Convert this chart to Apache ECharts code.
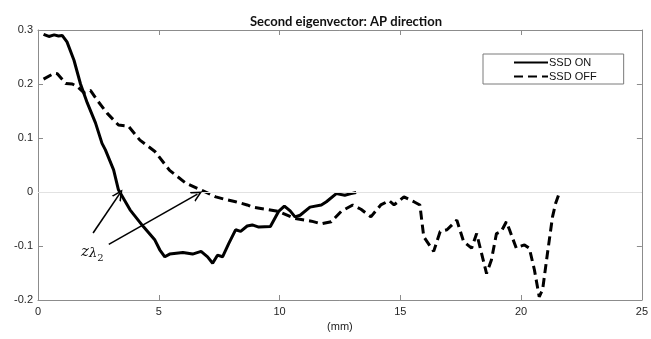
<!DOCTYPE html>
<html>
<head>
<meta charset="utf-8">
<script src="https://cdn.jsdelivr.net/npm/echarts@6/dist/echarts.min.js"></script>
<style>
  html, body { margin: 0; padding: 0; background: #fff; }
  #chart { width: 651px; height: 339px; }
</style>
</head>
<body>
<div id="chart"></div>
<script>
const xTicks = [0, 5, 10, 15, 20, 25]
const yTicks = [-0.2, -0.1, 0, 0.1, 0.2, 0.3]

const onX = [0.23, 0.45, 0.67, 0.85, 1.0, 1.2, 1.49, 1.76, 2.04, 2.38,
  2.65, 2.79, 3.13, 3.33, 3.81, 4.36, 4.84, 5.04, 5.25, 5.45,
  6.0, 6.4, 6.75, 7.02, 7.23, 7.43, 7.64, 7.9, 8.18, 8.39,
  8.66, 8.87, 9.14, 9.62, 9.96, 10.2, 10.44, 10.64, 10.85, 11.26,
  11.73, 11.94, 12.35, 12.7, 12.96, 13.17]
const onY = [0.292, 0.288, 0.291, 0.289, 0.290, 0.278, 0.244, 0.20, 0.165, 0.128,
  0.09, 0.078, 0.041, 0.004, -0.033, -0.064, -0.089, -0.107, -0.12, -0.115,
  -0.112, -0.115, -0.11, -0.12, -0.132, -0.117, -0.12, -0.095, -0.07, -0.073,
  -0.063, -0.061, -0.065, -0.064, -0.036, -0.026, -0.035, -0.046, -0.043, -0.028,
  -0.024, -0.018, -0.003, -0.006, -0.003, -0.001]

const offX = [0.23, 0.67, 0.8, 1.15, 1.42, 1.63, 1.9, 2.17, 2.45, 2.86,
  3.33, 3.74, 4.22, 4.84, 5.45, 6.13, 6.68, 7.36, 7.77, 8.18,
  8.66, 8.87, 9.41, 9.96, 10.64, 11.32, 11.73, 12.14, 12.55, 13.03,
  13.37, 13.78, 14.19, 14.54, 14.74, 15.15, 15.56, 15.81, 15.97, 16.38,
  16.65, 16.93, 17.34, 17.62, 17.95, 18.16, 18.57, 18.77, 18.98, 19.18,
  19.39, 19.52, 19.8, 19.93, 20.14, 20.34, 20.55, 20.75, 20.89, 21.09,
  21.3, 21.43, 21.57]
const offY = [0.209, 0.22, 0.219, 0.201, 0.2, 0.195, 0.184, 0.188, 0.17, 0.146,
  0.124, 0.122, 0.096, 0.075, 0.04, 0.016, 0.005, -0.009, -0.014, -0.018,
  -0.024, -0.028, -0.032, -0.036, -0.049, -0.054, -0.059, -0.055, -0.036, -0.024,
  -0.032, -0.046, -0.024, -0.016, -0.024, -0.009, -0.018, -0.024, -0.083, -0.11,
  -0.073, -0.07, -0.052, -0.092, -0.104, -0.077, -0.151, -0.126, -0.077, -0.073,
  -0.055, -0.07, -0.104, -0.101, -0.098, -0.104, -0.144, -0.194, -0.181, -0.114,
  -0.046, -0.021, -0.003]

// annotation arrows: [fromX, fromY, toX, toY]
const arrows = [
  [2.28, -0.076, 3.37, -0.004],
  [2.93, -0.097, 6.6, -0.004],
]
const labelAt = [2.25, -0.111]

const AXIS_COLOR = '#8c8c8c'
const FONT = '"Liberation Sans", Arial, sans-serif'
const ARROW_HEAD = 'path://M0,10 L5,0 L10,10 L8.4,10 L5,3.2 L1.6,10 Z'

const chart = echarts.init(document.getElementById('chart'))

const baseX = {
  type: 'value',
  min: xTicks[0],
  max: xTicks[xTicks.length - 1],
  interval: 5,
  axisLine: { show: true, onZero: false, lineStyle: { color: AXIS_COLOR, width: 1 } },
  axisTick: { show: true, inside: true, length: 5, lineStyle: { color: AXIS_COLOR } },
  splitLine: { show: false },
}
const baseY = {
  type: 'value',
  min: yTicks[0],
  max: yTicks[yTicks.length - 1],
  interval: 0.1,
  axisLine: { show: true, onZero: false, lineStyle: { color: AXIS_COLOR, width: 1 } },
  axisTick: { show: true, inside: true, length: 5, lineStyle: { color: AXIS_COLOR } },
  splitLine: { show: false },
}

chart.setOption({
  backgroundColor: '#fff',
  animation: false,
  title: {
    text: 'Second eigenvector: AP direction',
    left: 341,
    top: 10,
    textAlign: 'center',
    textStyle: { fontFamily: 'Lato, "Open Sans", sans-serif', fontWeight: 'bold', fontSize: 13, color: '#111' },
  },
  legend: {
    left: 483,
    top: 54,
    orient: 'vertical',
    backgroundColor: '#fff',
    borderColor: '#7a7a7a',
    borderWidth: 1,
    borderRadius: 0,
    padding: [3, 27, 2, 30],
    itemWidth: 34,
    itemHeight: 12,
    itemGap: 3,
    itemStyle: { opacity: 0 },
    textStyle: { fontFamily: FONT, fontSize: 11, color: '#111', padding: [0, 0, 0, -4] },
    data: ['SSD ON', 'SSD OFF'],
  },
  grid: { left: 38, right: 5, top: 30, bottom: 39 },
  xAxis: [
    {
      ...baseX,
      position: 'bottom',
      name: '(mm)',
      nameLocation: 'middle',
      nameGap: 21,
      nameTextStyle: { fontFamily: FONT, fontSize: 11, color: '#222' },
      axisLabel: { fontFamily: FONT, fontSize: 11, color: '#262626', margin: 6 },
    },
    { ...baseX, position: 'top', axisLabel: { show: false } },
  ],
  yAxis: [
    {
      ...baseY,
      position: 'left',
      axisLabel: {
        fontFamily: FONT, fontSize: 11, color: '#262626', margin: 5,
        formatter: v => String(Math.round(v * 10) / 10),
      },
    },
    { ...baseY, position: 'right', axisLabel: { show: false } },
  ],
  series: [
    {
      name: 'SSD ON',
      type: 'line',
      symbol: 'none',
      silent: true,
      z: 3,
      lineStyle: { color: '#000', width: 3 },
      itemStyle: { color: '#000' },
      data: onX.map((x, i) => [x, onY[i]]),
      markLine: {
        silent: true,
        animation: false,
        symbol: ['none', 'none'],
        label: { show: false },
        data: [
          [
            { coord: [0, 0], symbol: 'none', lineStyle: { color: '#e2e2e2', width: 1, type: 'solid' } },
            { coord: [25, 0], symbol: 'none' },
          ],
          ...arrows.map(a => [
            { coord: [a[0], a[1]], symbol: 'none', lineStyle: { color: '#000', width: 1.6, type: 'solid' } },
            { coord: [a[2], a[3]], symbol: ARROW_HEAD, symbolSize: [11, 11] },
          ]),
        ],
      },
      markPoint: {
        silent: true,
        symbol: 'circle',
        symbolSize: 1,
        itemStyle: { color: 'rgba(0,0,0,0)' },
        label: {
          show: true,
          position: 'inside',
          formatter: '{z|z}{l|λ}{s|2}',
          rich: {
            z: { fontFamily: '"DejaVu Serif", serif', fontStyle: 'italic', fontSize: 15, color: '#111' },
            l: { fontFamily: '"DejaVu Serif", serif', fontStyle: 'italic', fontSize: 13, color: '#111', padding: [4, 0, 0, 0] },
            s: { fontFamily: '"DejaVu Serif", serif', fontSize: 10, color: '#111', padding: [12, 0, 0, 0] },
          },
        },
        data: [{ coord: labelAt }],
      },
    },
    {
      name: 'SSD OFF',
      type: 'line',
      symbol: 'none',
      silent: true,
      z: 3,
      lineStyle: { color: '#000', width: 3, type: [9, 5] },
      itemStyle: { color: '#000' },
      data: offX.map((x, i) => [x, offY[i]]),
    },
  ],
})
</script>
</body>
</html>
